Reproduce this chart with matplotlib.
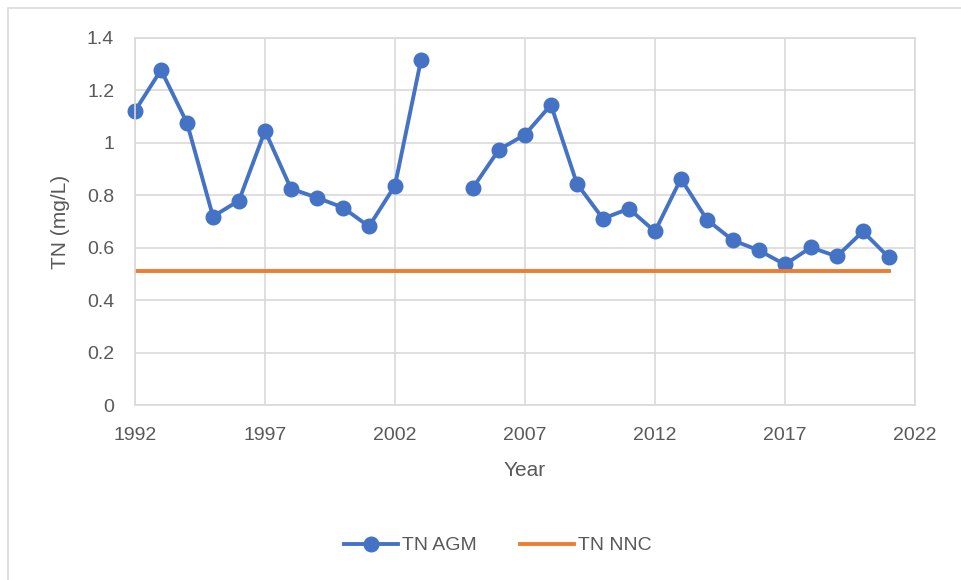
import matplotlib.pyplot as plt
import matplotlib.patches as patches
import numpy as np

years = [1992, 1993, 1994, 1995, 1996, 1997, 1998, 1999, 2000, 2001, 2002, 2003,
         2004, 2005, 2006, 2007, 2008, 2009, 2010, 2011, 2012, 2013, 2014, 2015,
         2016, 2017, 2018, 2019, 2020, 2021]
tn_agm = [1.122, 1.278, 1.076, 0.719, 0.780, 1.046, 0.825, 0.791, 0.753, 0.681, 0.837, 1.316,
          np.nan, 0.829, 0.974, 1.031, 1.145, 0.844, 0.711, 0.749, 0.662, 0.863, 0.707, 0.628,
          0.590, 0.536, 0.601, 0.567, 0.662, 0.563]
tn_nnc = [0.51] * len(years)

plt.rcParams['font.family'] = ['Liberation Sans', 'DejaVu Sans']

fig = plt.figure(figsize=(9.61, 5.8), dpi=100)
ax = fig.add_axes([0.1405, 0.3017, 0.8115, 0.6328])

ax.plot(years, tn_agm, color='#4472C4', lw=2.8, marker='o', markersize=10.5,
        label='TN AGM', clip_on=False)
ax.plot(years, tn_nnc, color='#ED7D31', lw=2.8, label='TN NNC')

ax.set_xlim(1992, 2022)
ax.set_ylim(0, 1.4)
ax.set_xticks(np.arange(1992, 2023, 5))
ax.set_yticks(np.arange(0, 1.41, 0.2))
ax.set_yticklabels(['0', '0.2', '0.4', '0.6', '0.8', '1', '1.2', '1.4'])
ax.grid(color='#D9D9D9', lw=1.2)
ax.set_axisbelow(True)
for s in ax.spines.values():
    s.set_color('#D9D9D9')
    s.set_linewidth(1.2)
ax.tick_params(length=0, labelsize=14, labelcolor='#595959')
ax.tick_params(axis='x', pad=16)
ax.tick_params(axis='y', pad=15)
ax.set_xlabel('Year', fontsize=15, color='#595959', labelpad=12)
ax.set_ylabel('TN (mg/L)', fontsize=15, color='#595959', labelpad=12)

ax.legend(loc='center', bbox_to_anchor=(0.465, -0.383), ncol=2, frameon=False,
          fontsize=14, labelcolor='#595959', handlelength=2.8, columnspacing=2.2,
          handletextpad=0.2)

fig.patches.append(patches.Rectangle((8 / 961, -0.01), 1.0, 1 - 8 / 580 + 0.01,
                                     transform=fig.transFigure, fill=False,
                                     edgecolor='#D9D9D9', lw=1.2))

fig.savefig('out.png', dpi=100)
